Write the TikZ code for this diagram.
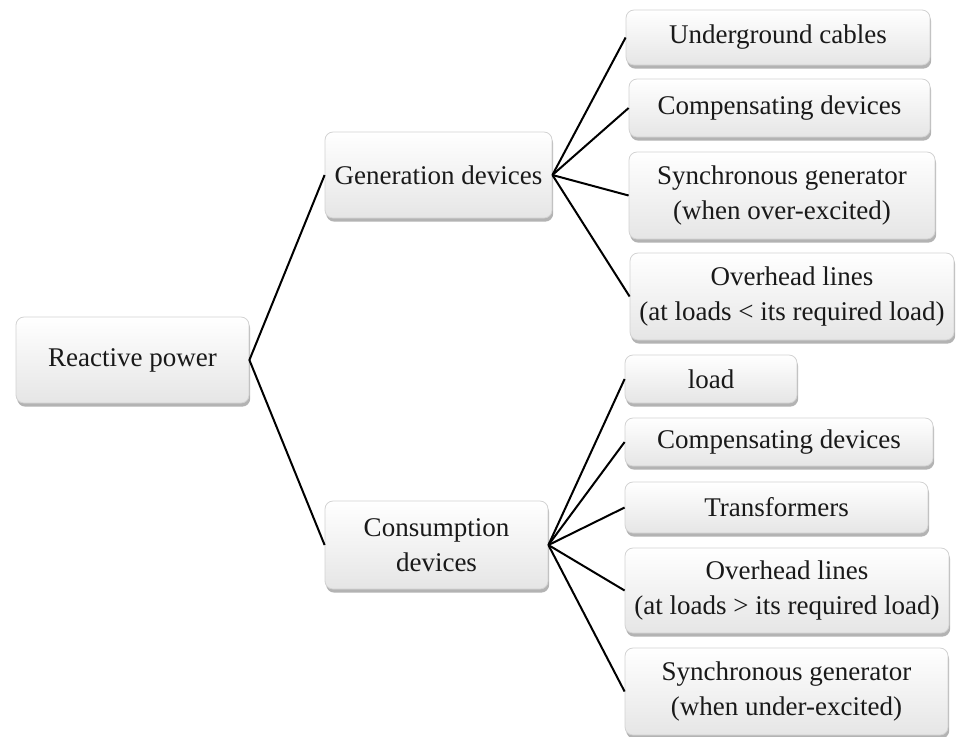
\documentclass[tikz,border=0pt]{standalone}
\usepackage{fontspec}
\setmainfont{Liberation Serif}
\usepackage{tikz}
\usetikzlibrary{shadows}

\begin{document}
\begin{tikzpicture}[x=0.5pt,y=-0.5pt,
  box/.style={rectangle, rounded corners=4pt, draw=gray!35, line width=0.4pt,
    top color=white, bottom color=gray!20, align=center, inner sep=2pt,
    text=black!90, font=\fontsize{13.5}{17.5}\selectfont,
    drop shadow={shadow xshift=0.6pt, shadow yshift=-1.8pt, opacity=0.6}},
  link/.style={line width=1pt, black}]
\useasboundingbox (0,0) rectangle (956,736);
% root and the two branches
\node[box, minimum width=116.5pt, minimum height=43pt] (rp)  at (132.5,360) {Reactive power};
\node[box, minimum width=113.5pt, minimum height=43pt] (gen) at (438.5,175) {Generation devices};
\node[box, minimum width=111.5pt, minimum height=44pt] (con) at (436.5,545) {Consumption\\devices};
% generation side
\node[box, minimum width=152pt,   minimum height=27.5pt] (g1) at (778,37.5)  {Underground cables};
\node[box, minimum width=150.5pt, minimum height=29pt]   (g2) at (779.5,108) {Compensating devices};
\node[box, minimum width=153pt,   minimum height=43.5pt] (g3) at (782,195.5) {Synchronous generator\\(when over-excited)};
\node[box, minimum width=162pt,   minimum height=43.5pt] (g4) at (792,296.5) {Overhead lines\\(at loads \textless{} its required load)};
% consumption side
\node[box, minimum width=86pt,    minimum height=24pt]   (c1) at (711,379)   {load};
\node[box, minimum width=154pt,   minimum height=24pt]   (c2) at (779,442)   {Compensating devices};
\node[box, minimum width=151.5pt, minimum height=25.5pt] (c3) at (776.5,507.5) {Transformers};
\node[box, minimum width=162pt,   minimum height=42.5pt] (c4) at (787,590.5) {Overhead lines\\(at loads \textgreater{} its required load)};
\node[box, minimum width=161.5pt, minimum height=43.5pt] (c5) at (786.5,691.5) {Synchronous generator\\(when under-excited)};
% connectors
\draw[link] (gen.west) -- (rp.east) -- (con.west);
\foreach \n in {g1,g2,g3,g4}
  \draw[link] (gen.east) -- (\n.west);
\foreach \n in {c1,c2,c3,c4,c5}
  \draw[link] (con.east) -- (\n.west);
\end{tikzpicture}
\end{document}
